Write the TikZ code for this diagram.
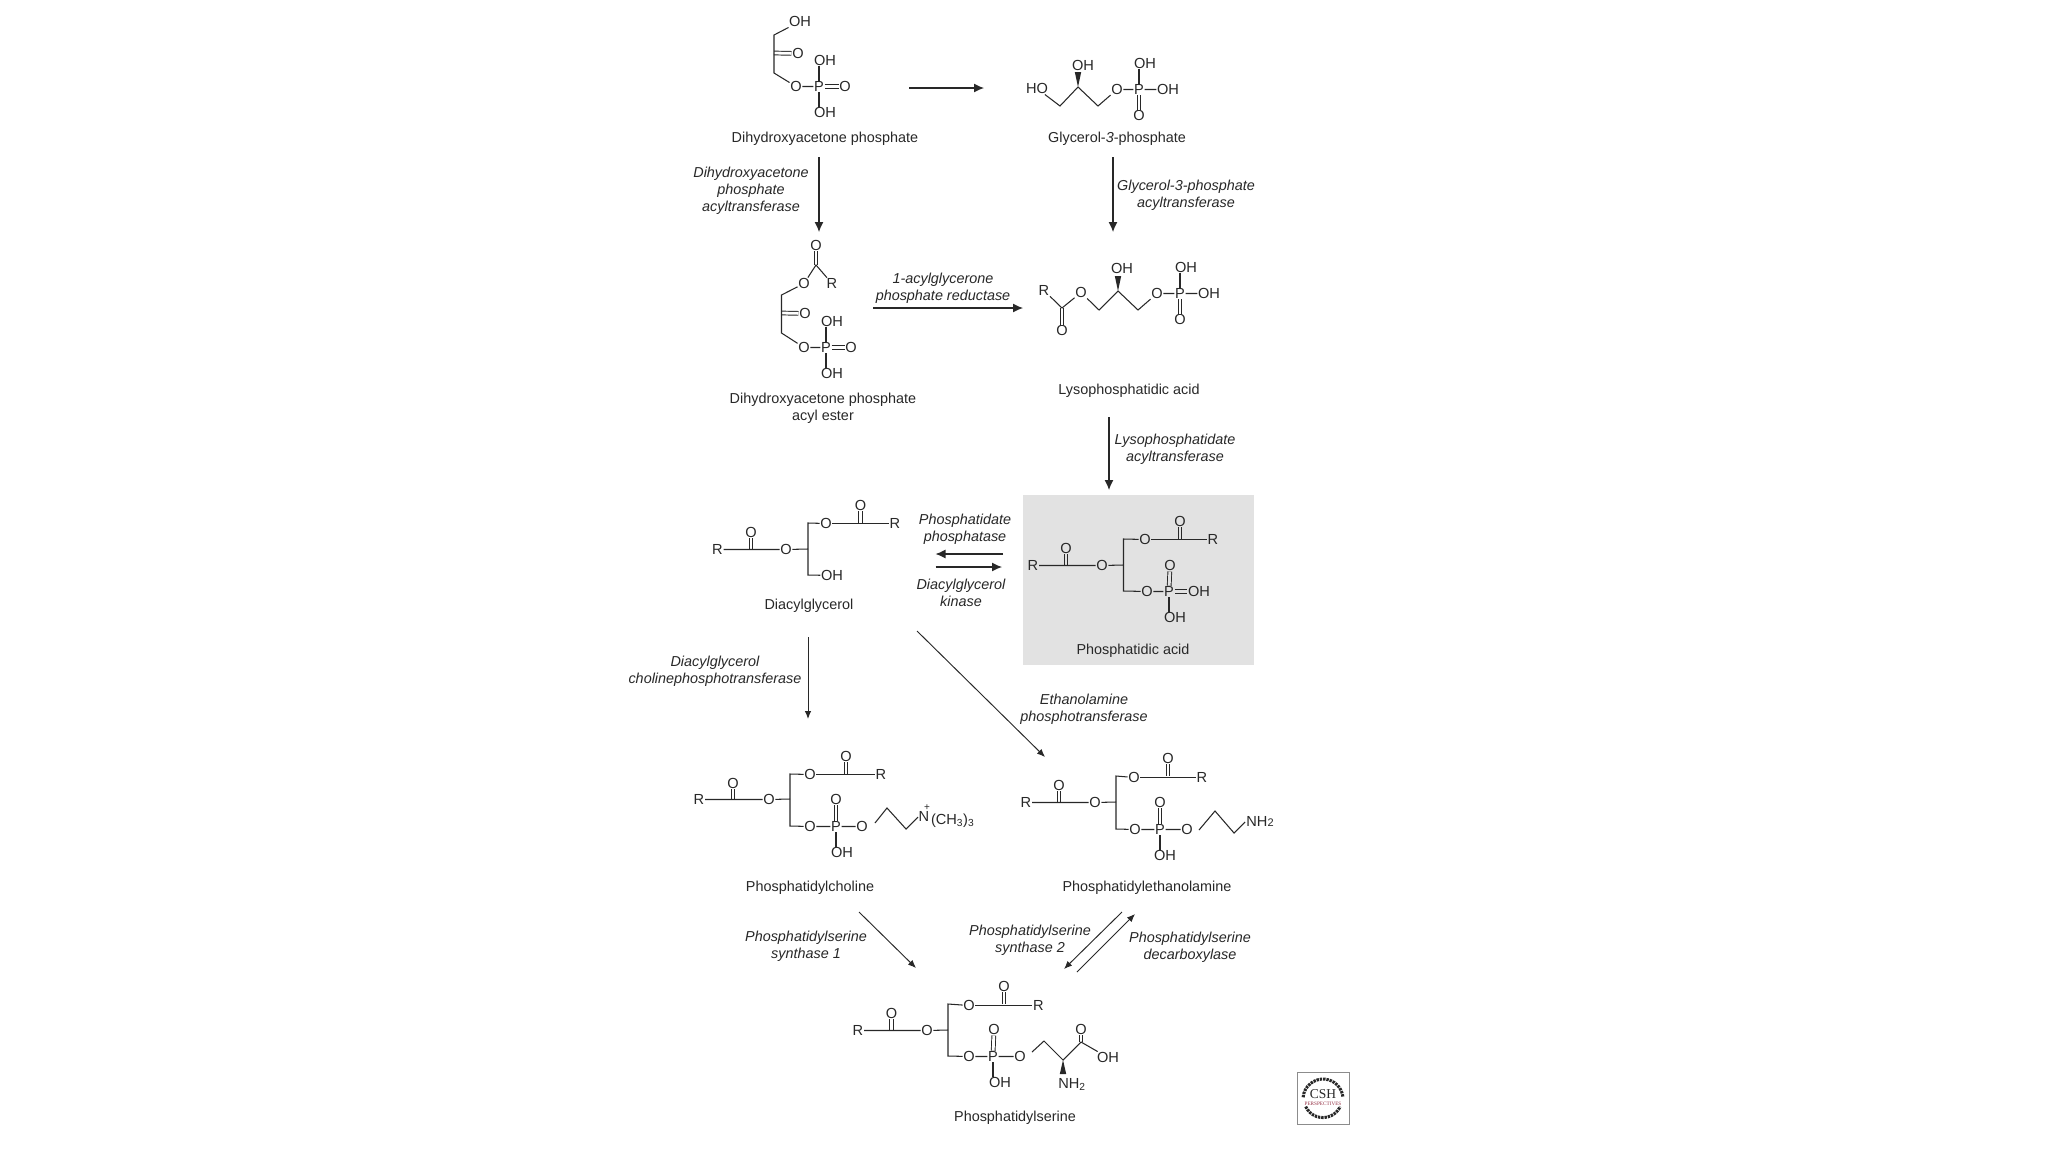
\documentclass[tikz,border=0pt]{standalone}
\usepackage{fontspec}
\usepackage{xcolor}
\usetikzlibrary{arrows.meta, calc}
\setmainfont{Liberation Sans}
\newfontfamily\logofont{Liberation Serif}
\definecolor{ink}{RGB}{40,40,40}
\definecolor{boxgray}{RGB}{226,226,226}
\definecolor{logored}{RGB}{150,50,70}
\tikzset{
  atom/.style={inner sep=0.8pt, outer sep=0pt, yshift=-0.5pt, text=ink, font=\fontsize{14.6}{17}\selectfont},
  bond/.style={draw=ink, line width=1.05pt},
  dbl/.style={draw=ink, line width=0.95pt, double=white, double distance=2.8pt},
  dblgray/.style={dbl, double=boxgray},
  compound/.style={inner sep=0pt, yshift=-1.2pt, text=ink, align=center, font=\fontsize{14.4}{17}\selectfont},
  enzyme/.style={inner sep=0pt, yshift=-1.2pt, text=ink, align=center, font=\fontsize{14.4}{17}\selectfont\itshape},
  rxn/.style={draw=ink, line width=1.2pt, -{Latex[length=10pt,width=9pt]}},
  rxnthin/.style={draw=ink, line width=0.95pt, -{Latex[length=8pt,width=6.5pt]}}
}
\begin{document}
\begin{tikzpicture}[x=1pt,y=-1pt]
\path[fill=white,use as bounding box] (0,0) rectangle (2048,1152);

% Grey box behind phosphatidic acid
\fill[boxgray] (1023,495) rectangle (1254,665);

% Dihydroxyacetone phosphate
\foreach \n/\x/\y/\t in {oh/800/21/OH, o/798/53/O, oa/796/86/O, p/819/86/P, ob/845/86/O, ohu/825/60/OH, ohd/825/112/OH}
  \node[atom] (dhap\n) at (\x,\y) {\t};
\foreach \n/\x/\y in {a/774/35, b/774/53, c/774/73}
  \coordinate (dhap\n) at (\x,\y);
\draw[dbl] (dhapb) -- (dhapo);
\draw[bond] (dhapoh) -- (dhapa) -- (dhapc) -- (dhapoa) -- (dhapp);
\draw[dbl] (dhapp) -- (dhapob);
\draw[bond] (dhapp) -- (dhapp |- dhapohu.south);
\draw[bond] (dhapp) -- (dhapp |- dhapohd.north);
\node[compound] (dhapname) at (825,138) {Dihydroxyacetone phosphate};

% Glycerol-3-phosphate
\foreach \n/\x/\y/\t in {ho/1037/88/HO, oh/1083/65/OH, o/1117/89/O, p/1139/89/P, ohr/1168/89/OH, ohu/1145/63/OH, od/1139/115/O}
  \node[atom] (gp\n) at (\x,\y) {\t};
\foreach \n/\x/\y in {a/1060/106, b/1078/87, c/1098/106}
  \coordinate (gp\n) at (\x,\y);
\draw[bond] (gpho) -- (gpa) -- (gpb) -- (gpc) -- (gpo) -- (gpp) -- (gpohr);
\draw[bond] (gpp) -- (gpp |- gpohu.south);
\draw[dbl] (gpp) -- (gpod);
\fill[ink] (gpb) -- ++(-3.2,-15) -- ++(6.4,0) -- cycle;
\node[compound] (gpname) at (1117,138) {Glycerol-\textit{3}-phosphate};

% Dihydroxyacetone phosphate acyl ester
\foreach \n/\x/\y/\t in {ot/816/245/O, oe/804/283/O, r/832/283/R, o/805/313/O, oa/804/347/O, p/826/347/P, ob/851/347/O, ohu/832/321/OH, ohd/832/373/OH}
  \node[atom] (dape\n) at (\x,\y) {\t};
\foreach \n/\x/\y in {c/816/265, a/781.5/295, b/781.5/313, d/781.5/333}
  \coordinate (dape\n) at (\x,\y);
\draw[dbl] (dapec) -- (dapeot);
\draw[bond] (dapeoe) -- (dapec) -- (daper);
\draw[dbl] (dapeb) -- (dapeo);
\draw[bond] (dapeoe) -- (dapea) -- (daped) -- (dapeoa) -- (dapep);
\draw[dbl] (dapep) -- (dapeob);
\draw[bond] (dapep) -- (dapep |- dapeohu.south);
\draw[bond] (dapep) -- (dapep |- dapeohd.north);
\node[compound] (dapename) at (823,407.5) {Dihydroxyacetone phosphate\\acyl ester};

% Lysophosphatidic acid
\foreach \n/\x/\y/\t in {r/1044/290/R, oc/1062/330/O, o/1081/292/O, oh/1122/268/OH, ob/1157/293/O, p/1180/293/P, ohr/1209/293/OH, ohu/1186/267/OH, od/1180/319/O}
  \node[atom] (lpa\n) at (\x,\y) {\t};
\foreach \n/\x/\y in {c/1062/308, a/1099/310, b/1118/291, d/1138/310}
  \coordinate (lpa\n) at (\x,\y);
\draw[dbl] (lpac) -- (lpaoc);
\draw[bond] (lpar) -- (lpac) -- (lpao) -- (lpaa) -- (lpab) -- (lpad) -- (lpaob) -- (lpap) -- (lpaohr);
\draw[dbl] (lpap) -- (lpaod);
\draw[bond] (lpap) -- (lpap |- lpaohu.south);
\fill[ink] (lpab) -- ++(-3.2,-15) -- ++(6.4,0) -- cycle;
\node[compound] (lpaname) at (1129,390) {Lysophosphatidic acid};

% Diacylglycerol
\foreach \n/\x/\y/\t in {r/717.5/549/R, oc/751/532/O, o/786/549/O, ou/826/523/O, ot/860.5/505/O, ru/895/523/R, oh/832/575/OH}
  \node[atom] (dag\n) at (\x,\y) {\t};
\foreach \n/\x/\y in {c/751/549, m/808/549, a/808/523, b/808/575, d/860.5/523}
  \coordinate (dag\n) at (\x,\y);
\draw[dbl] (dagc) -- (dagoc);
\draw[bond] (dagr) -- (dago) -- (dagm);
\draw[dbl] (dagd) -- (dagot);
\draw[bond] (dagou) -- (daga) -- (dagb) -- (dagoh);
\draw[bond] (dagou) -- (dagru);
\node[compound] (dagname) at (809,605) {Diacylglycerol};

% Phosphatidic acid
\foreach \n/\x/\y/\t in {r/1033/565/R, oc/1066/548/O, o/1102/565/O, ou/1145/539/O, ot/1180/521/O, ru/1213/539/R, ob/1147/591/O, p/1169/591/P, op/1170/565/O, ohr/1199/591/OH, ohd/1175/617/OH}
  \node[atom] (pa\n) at (\x,\y) {\t};
\foreach \n/\x/\y in {c/1066/565, m/1123.5/565, a/1123.5/539, b/1123.5/591, d/1180/539}
  \coordinate (pa\n) at (\x,\y);
\draw[dblgray] (pac) -- (paoc);
\draw[bond] (par) -- (pao) -- (pam);
\draw[dblgray] (pad) -- (paot);
\draw[bond] (paou) -- (paa) -- (pab) -- (paob) -- (pap);
\draw[bond] (paou) -- (paru);
\draw[dblgray] (pap) -- (paop);
\draw[dblgray] (pap) -- (paohr);
\draw[bond] (pap) -- (pap |- paohd.north);
\node[compound] (paname) at (1133,650) {Phosphatidic acid};

% Phosphatidylcholine
\foreach \n/\x/\y/\t in {r/699/799/R, oc/733/783/O, o/769/799/O, ou/810/774/O, ot/846/756/O, ru/881/774/R, ob/810/826/O, p/836/826/P, op/836/799/O, oe/862/826/O, ohd/842/852/OH, n/924/816/N}
  \node[atom] (pc\n) at (\x,\y) {\t};
\foreach \n/\x/\y in {c/733/799, m/790/799, a/790/774, b/790/826, d/846/774, s/875/823, e/887/808, f/906/829, g/918/817}
  \coordinate (pc\n) at (\x,\y);
\draw[dbl] (pcc) -- (pcoc);
\draw[bond] (pcr) -- (pco) -- (pcm);
\draw[dbl] (pcd) -- (pcot);
\draw[bond] (pcou) -- (pca) -- (pcb) -- (pcob) -- (pcp) -- (pcoe);
\draw[bond] (pcou) -- (pcru);
\draw[dbl] (pcp) -- (pcop);
\draw[bond] (pcp) -- (pcp |- pcohd.north);
\draw[bond] (pcs) -- (pce) -- (pcf) -- (pcg);
\node[atom, font=\fontsize{10}{12}\selectfont] (pcplus) at (927,807) {+};
\node[atom, anchor=west, inner sep=0pt] (pcme) at (931,820) {(CH\textsubscript{3})\textsubscript{3}};
\node[compound] (pcname) at (810,887) {Phosphatidylcholine};

% Phosphatidylethanolamine
\foreach \n/\x/\y/\t in {r/1026/802/R, oc/1059/785/O, o/1095/802/O, ou/1134/777/O, ot/1168/758/O, ru/1202/777/R, ob/1135/829/O, p/1160/829/P, op/1160/802/O, oe/1187/829/O, ohd/1165/855/OH, n/1260/821/NH{\fontsize{11}{12}\selectfont 2}}
  \node[atom] (pe\n) at (\x,\y) {\t};
\foreach \n/\x/\y in {c/1059/802, m/1116/802, a/1116/776, b/1116/829, d/1168/776, s/1199/830, e/1215/811, f/1234/833, g/1245/822}
  \coordinate (pe\n) at (\x,\y);
\draw[dbl] (pec) -- (peoc);
\draw[bond] (per) -- (peo) -- (pem);
\draw[dbl] (ped) -- (peot);
\draw[bond] (peou) -- (pea) -- (peb) -- (peob) -- (pep) -- (peoe);
\draw[bond] (peou) -- (peru);
\draw[dbl] (pep) -- (peop);
\draw[bond] (pep) -- (pep |- peohd.north);
\draw[bond] (pes) -- (pee) -- (pef) -- (peg);
\node[compound] (pename) at (1147,887) {Phosphatidylethanolamine};

% Phosphatidylserine
\foreach \n/\x/\y/\t in {r/858/1030/R, oc/891.5/1013/O, o/927/1030/O, ou/969/1005/O, ot/1004/986/O, ru/1038.5/1005/R, ob/969/1056/O, p/993/1056/P, op/994/1029/O, oe/1020/1056/O, ohd/1000/1082/OH, oa/1081/1029/O, oh/1108/1057/OH}
  \node[atom] (ps\n) at (\x,\y) {\t};
\node[atom] (psn) at (1072,1084) {NH\textsubscript{2}};
\foreach \n/\x/\y in {c/891.5/1030, m/948/1030, a/948/1004, b/948/1056, d/1004/1004, s/1032/1052, e/1044/1041, f/1063/1060, g/1081/1042}
  \coordinate (ps\n) at (\x,\y);
\draw[dbl] (psc) -- (psoc);
\draw[bond] (psr) -- (pso) -- (psm);
\draw[dbl] (psd) -- (psot);
\draw[bond] (psou) -- (psa) -- (psb) -- (psob) -- (psp) -- (psoe);
\draw[bond] (psou) -- (psru);
\draw[dbl] (psp) -- (psop);
\draw[bond] (psp) -- (psp |- psohd.north);
\draw[dbl] (psg) -- (psoa);
\draw[bond] (pss) -- (pse) -- (psf) -- (psg) -- (psoh);
\fill[ink] (psf) -- ++(-3.2,14) -- ++(6.4,0) -- cycle;
\node[compound] (psname) at (1015,1117) {Phosphatidylserine};

% Reaction arrows
\foreach \n/\xa/\ya/\xb/\yb/\s in {r1/909/88/984/88/rxn, r2/819/157/819/232/rxn, r3/1113/157/1113/232/rxn, r4/873/308/1023/308/rxn, r5/1109/417/1109/490/rxn, r6/1003/554/935.5/554/rxn, r7/935.5/567/1002/567/rxn, r8/808/637/808/719/rxnthin, r9/917/631/1045/757/rxnthin, r10/859/912/916/968/rxnthin, r11/1122/912/1064/969/rxnthin, r12/1077/972/1135/914/rxnthin}
{
  \coordinate (\n a) at (\xa,\ya);
  \coordinate (\n b) at (\xb,\yb);
  \draw[\s] (\n a) -- (\n b);
}

% Enzyme labels
\node[enzyme] (dhapat) at (751,190) {Dihydroxyacetone\\phosphate\\acyltransferase};
\node[enzyme] (gpat) at (1186,194) {Glycerol-3-phosphate\\acyltransferase};
\node[enzyme] (agpr) at (943,287) {1-acylglycerone\\phosphate reductase};
\node[enzyme] (lpat) at (1175,448) {Lysophosphatidate\\acyltransferase};
\node[enzyme] (pap) at (965,528) {Phosphatidate\\phosphatase};
\node[enzyme] (dagk) at (961,592) {Diacylglycerol\\kinase};
\node[enzyme] (cpt) at (715,670) {Diacylglycerol\\cholinephosphotransferase};
\node[enzyme] (ept) at (1084,708) {Ethanolamine\\phosphotransferase};
\node[enzyme] (pss1) at (806,945) {Phosphatidylserine\\synthase 1};
\node[enzyme] (pss2) at (1030,939) {Phosphatidylserine\\synthase 2};
\node[enzyme] (psd) at (1190,946) {Phosphatidylserine\\decarboxylase};

% CSH logo
\draw[black!45, line width=1pt] (1297,1072) rectangle (1349,1124);
\draw[ink, line width=3pt, dash pattern=on 2.4pt off 0.9pt] (1303.1,1097.3) arc[start angle=185, end angle=355, radius=20];
\draw[ink, line width=3pt, dash pattern=on 2.4pt off 0.9pt] (1305.7,1106.6) arc[start angle=155, end angle=25, radius=19];
\node[inner sep=0pt, text=ink, font=\logofont\fontsize{13.5}{14}\selectfont] (csh) at (1323,1094.5) {CSH};
\node[inner sep=0pt, text=logored, font=\logofont\fontsize{5.2}{6}\selectfont] (persp) at (1323,1104) {PERSPECTIVES};
\end{tikzpicture}
\end{document}
